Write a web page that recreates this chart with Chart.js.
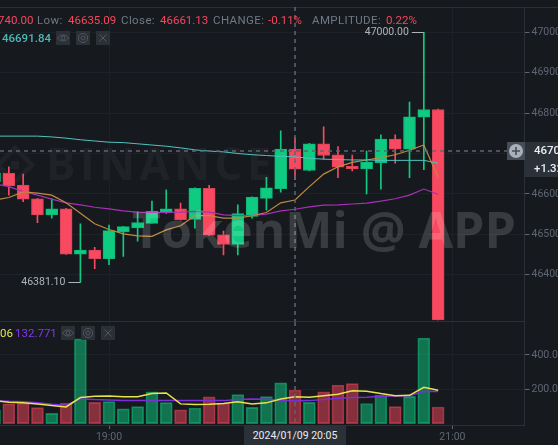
<!DOCTYPE html>
<html>
<head>
<meta charset="UTF-8">
<title>BTC 5m</title>
<script src="https://cdn.jsdelivr.net/npm/chart.js@4"></script>
<style>
  html, body { margin: 0; width: 558px; height: 445px; overflow: hidden; background: #161a1e; }
  canvas { position: absolute; left: 0; }
  #mainChart { top: 0; }
  #volChart { top: 322px; }
  .t { position: absolute; font: 11.5px Roboto, sans-serif; white-space: nowrap; line-height: 14px; }
  .lab { color: #6f7885; letter-spacing: 0.4px; }
  .red { color: #f6465d; }
  .box { position: absolute; width: 14px; height: 14px; background: #2b2f36; }
  #tag { position: absolute; left: 525px; top: 142px; width: 33px; height: 35px; background: #2b3139; }
  #plus { position: absolute; left: 507px; top: 142px; width: 18px; height: 18px; background: #474d57; }
  #dateTag { position: absolute; left: 244px; top: 425px; width: 102px; height: 20px; background: #2b3139; color: #eaecef;
    font: 10.5px Roboto, sans-serif; text-align: center; line-height: 22px; }
</style>
</head>
<body>
<canvas id="mainChart" width="558" height="322"></canvas>
<canvas id="volChart" width="558" height="123"></canvas>

<span class="t red" style="left:-2px;top:13px">740.00</span>
<span class="t lab" style="left:37px;top:13px">Low:</span>
<span class="t red" style="left:68px;top:13px">46635.09</span>
<span class="t lab" style="left:121px;top:13px">Close:</span>
<span class="t red" style="left:160px;top:13px">46661.13</span>
<span class="t lab" style="left:213px;top:13px">CHANGE:</span>
<span class="t red" style="left:268px;top:13px">-0.11%</span>
<span class="t lab" style="left:312px;top:13px">AMPLITUDE:</span>
<span class="t red" style="left:386px;top:13px">0.22%</span>
<span class="t" style="left:2px;top:31px;color:#4db8b8;font-weight:500">46691.84</span>
<span class="t" style="left:0;top:326px;color:#e8e34d;">06</span>
<span class="t" style="left:15px;top:326px;color:#8438f0;">132.771</span>

<div id="plus"><svg width="18" height="18"><circle cx="9" cy="9" r="7" fill="#aab0b9"/><path d="M9 5v8M5 9h8" stroke="#474d57" stroke-width="1.6"/></svg></div>
<div id="tag"></div>
<span class="t" style="left:534px;top:143px;color:#eaecef;font-weight:500">46706.00</span>
<span class="t" style="left:534px;top:161px;color:#eaecef;font-weight:500">+1.32%</span>
<div id="dateTag">2024/01/09 20:05</div>

<script>
// 5 minute candles, minutes since midnight, 19:00 = 1140
var times = [1100,1105,1110,1115,1120,1125,1130,1135,1140,1145,1150,1155,1160,1165,1170,1175,
             1180,1185,1190,1195,1200,1205,1210,1215,1220,1225,1230,1235,1240,1245,1250,1255];
var opens  = [46630,46651,46622,46588,46548,46563,46451,46461,46440,46506,46516,46527,46554,46563,46537,46614,
              46499,46475,46544,46589,46613,46711,46658,46724,46697,46668,46662,46677,46736,46711,46790,46809];
var highs  = [46660,46667,46649,46589,46588,46564,46526,46468,46523,46520,46556,46582,46610,46577,46615,46621,
              46508,46573,46593,46641,46756,46740,46725,46766,46717,46696,46706,46746,46746,46827,47000,46810];
var lows   = [46622,46597,46581,46529,46540,46450,46381.10,46415,46425,46445,46483,46527,46552,46535,46515,46497,
              46449,46449,46540,46560,46604,46635.09,46657,46686,46640,46657,46600,46612,46676,46640,46660,46288];
var closes = [46652,46620,46587,46548,46563,46451,46461,46440,46509,46519,46529,46557,46563,46536,46614,46498,
              46475,46551,46592,46615,46711,46661.13,46724,46695,46666,46662,46679,46736,46711,46791,46809,46288];

var maOrange = [46585,46591,46605,46602,46597,46578,46552,46526,46512,46501,46496,46495,46511,46521,46546,46546,
                46540,46540,46546,46554,46578,46585,46618,46649,46667,46678,46684,46690,46697,46708,46721,46641];
var maPurple = [46625,46618,46606,46597,46587,46578,46573,46567,46563,46558,46555,46554,46554,46555,46557,46555,
                46548,46546,46547,46550,46558,46562,46568,46572,46573,46575,46577,46582,46588,46597,46612,46599];
var maTeal   = [46743,46743,46743,46743,46741,46738,46734,46731,46728,46727,46724,46721,46718,46714,46709,46706,
                46704,46700,46697,46695,46693,46691.84,46688,46686,46685,46684,46684,46683,46683,46683,46683,46676];

var volumes = [78,115,120,93,60,119,494,124,128,86,99,185,122,80,91,156,
               120,169,95,157,237,196,124,185,224,233,117,165,99,159,498,97];
var volMaYellow = [134,124,121,115,105,97,152,159,161,157,157,175,179,115,111,113,
                   117,128,115,121,144,157,154,163,171,192,189,175,163,165,212,194];
var volMaPurple = [134,130,128,121,113,107,144,140,138,134,134,134,134,134,134,134,
                   134,140,144,142,136,132.771,134,140,148,152,154,159,161,163,189,187];

var priceTicks = [46400,46500,46600,46700,46800,46900,47000];
var volTicks = [200,400];
var timeTicks = [1140,1260];
var crossTime = 1205, crossPrice = 46706;
var highMark = 47000, highMarkTime = 1250, lowMark = 46381.10, lowMarkTime = 1130;

var UP = '#0ecb81', DOWN = '#f84960';
var GRID = '#1e2228', LINE = '#2b2f36', TICK = '#5e6673';
var XMIN = 1101.91, XMAX = 1285.18;

function isUp(i) { return closes[i] >= opens[i]; }
function hhmm(m) { return Math.floor(m / 60) + ':' + ('0' + (m % 60)).slice(-2); }
function toPts(arr) { return arr.map(function (v, i) { return { x: times[i], y: v }; }); }
function maLine(arr, color, w) {
  return { type: 'line', data: toPts(arr), borderColor: color, borderWidth: w, pointRadius: 0, tension: 0, order: 0 };
}
function noPadding(s) { s.paddingTop = 0; s.paddingBottom = 0; s.paddingLeft = 0; s.paddingRight = 0; }
function xScale(showLabels) {
  return {
    type: 'linear', min: XMIN, max: XMAX, offset: false,
    afterBuildTicks: function (s) { s.ticks = timeTicks.map(function (v) { return { value: v }; }); },
    afterFit: function (s) { s.height = showLabels ? 20 : 0; noPadding(s); },
    grid: { offset: false, color: GRID, drawTicks: showLabels, tickColor: TICK, tickLength: 4 },
    border: { color: LINE },
    ticks: { display: showLabels, color: TICK, font: { family: 'Roboto', size: 10.5 }, padding: 2, maxRotation: 0,
             callback: function (v) { return hhmm(v); } }
  };
}
function yScale(min, max, list, digits) {
  return {
    position: 'right', min: min, max: max,
    afterBuildTicks: function (s) { s.ticks = list.map(function (v) { return { value: v }; }); },
    afterFit: function (s) { s.width = 33.5; noPadding(s); },
    grid: { color: GRID, tickColor: TICK, tickLength: 5 },
    border: { color: LINE },
    ticks: { color: TICK, font: { family: 'Roboto', size: 10.5 }, padding: 2,
             callback: function (v) { return v.toFixed(digits); } }
  };
}

var watermark = {
  id: 'watermark',
  beforeDatasetsDraw: function (c) {
    var g = c.ctx;
    g.save();
    g.fillStyle = '#1f2328';
    g.font = 'bold 44px "Open Sans"';
    g.letterSpacing = '4.5px';
    g.textBaseline = 'alphabetic';
    g.fillText('BINANCE', 46, 180);
    g.letterSpacing = '0px';
    g.strokeStyle = '#1f2328';
    g.lineWidth = 5;
    g.beginPath();
    g.moveTo(15, 148); g.lineTo(32, 165); g.lineTo(15, 182); g.lineTo(-2, 165); g.closePath();
    g.stroke();
    g.fillRect(11, 161, 8, 8);
    g.restore();
  }
};

var crossMain = {
  id: 'crossMain',
  afterDatasetsDraw: function (c) {
    var g = c.ctx, a = c.chartArea, x = c.scales.x, y = c.scales.y;
    var px = x.getPixelForValue(crossTime), py = y.getPixelForValue(crossPrice);
    g.save();
    g.strokeStyle = LINE;
    g.lineWidth = 1;
    g.beginPath(); g.moveTo(0, a.top + 0.5); g.lineTo(558, a.top + 0.5); g.stroke();

    g.strokeStyle = TICK;
    g.lineWidth = 1.5;
    g.setLineDash([4, 4]);
    g.beginPath(); g.moveTo(px, a.top); g.lineTo(px, a.bottom); g.stroke();
    g.beginPath(); g.moveTo(0, py); g.lineTo(a.right, py); g.stroke();
    g.setLineDash([]);

    // high / low marks
    g.font = '10.5px Roboto';
    g.fillStyle = '#aeb4bc';
    g.strokeStyle = '#aeb4bc';
    g.lineWidth = 1;
    g.textBaseline = 'middle';
    g.textAlign = 'right';
    [[highMark, highMarkTime], [lowMark, lowMarkTime]].forEach(function (m) {
      var mx = x.getPixelForValue(m[1]), my = Math.round(y.getPixelForValue(m[0])) + 0.5;
      g.beginPath(); g.moveTo(mx, my); g.lineTo(mx - 12, my); g.stroke();
      g.fillText(m[0].toFixed(2), mx - 15, my);
    });

    g.textAlign = 'left';
    g.textBaseline = 'alphabetic';
    g.fillStyle = 'rgba(255,255,255,0.15)';
    g.font = 'bold 50px "Open Sans"';
    g.fillText('TokenMi @ APP', 132, 248);
    g.restore();
  }
};

var crossVol = {
  id: 'crossVol',
  afterDatasetsDraw: function (c) {
    var g = c.ctx, a = c.chartArea;
    var px = c.scales.x.getPixelForValue(crossTime);
    g.save();
    g.strokeStyle = TICK;
    g.lineWidth = 1.5;
    g.setLineDash([4, 4]);
    g.beginPath(); g.moveTo(px, 0); g.lineTo(px, a.bottom + 4); g.stroke();
    g.restore();
  }
};

new Chart(document.getElementById('mainChart'), {
  type: 'bar',
  plugins: [watermark, crossMain],
  data: {
    datasets: [
      maLine(maTeal, '#4fc3bf', 1),
      maLine(maOrange, '#c08a3e', 1.2),
      maLine(maPurple, '#a82fb8', 1.2),
      { data: times.map(function (t, i) { return { x: t, y: [opens[i], closes[i]] }; }),
        barThickness: 12, grouped: false, order: 1, borderSkipped: false, borderWidth: 1,
        backgroundColor: times.map(function (t, i) { return isUp(i) ? UP : DOWN; }),
        borderColor: times.map(function (t, i) { return isUp(i) ? '#0db878' : '#d9435a'; }) },
      { data: times.map(function (t, i) { return { x: t, y: [lows[i], highs[i]] }; }),
        barThickness: 1, grouped: false, order: 2, borderWidth: 0,
        backgroundColor: times.map(function (t, i) { return isUp(i) ? UP : DOWN; }) }
    ]
  },
  options: {
    responsive: false, animation: false, devicePixelRatio: 1,
    layout: { padding: { top: 7, bottom: 0.5, left: 0, right: 0 } },
    plugins: { legend: { display: false }, tooltip: { enabled: false } },
    scales: { x: xScale(false), y: yScale(46284.2, 47062.6, priceTicks, 2) }
  }
});

new Chart(document.getElementById('volChart'), {
  type: 'bar',
  plugins: [crossVol],
  data: {
    datasets: [
      maLine(volMaYellow, '#e8e34d', 1.5),
      maLine(volMaPurple, '#7b2fd9', 1.5),
      { data: times.map(function (t, i) { return { x: t, y: volumes[i] }; }),
        barThickness: 12, grouped: false, order: 1, borderSkipped: false, borderWidth: 1,
        backgroundColor: times.map(function (t, i) { return isUp(i) ? 'rgba(14,203,129,0.5)' : 'rgba(246,70,93,0.5)'; }),
        borderColor: times.map(function (t, i) { return isUp(i) ? 'rgba(14,203,129,0.55)' : 'rgba(246,70,93,0.55)'; }) }
    ]
  },
  options: {
    responsive: false, animation: false, devicePixelRatio: 1,
    layout: { padding: 0 },
    plugins: { legend: { display: false }, tooltip: { enabled: false } },
    scales: { x: xScale(true), y: yScale(-8, 592, volTicks, 2) }
  }
});

// the eye / gear / close buttons beside the indicator labels
var eye = '<svg width="14" height="14" fill="none" stroke="#4f5661"><path d="M1.5 7C4 3 10 3 12.5 7 10 11 4 11 1.5 7z"/><circle cx="7" cy="7" r="2"/></svg>';
var gear = '<svg width="14" height="14" fill="none" stroke="#4f5661"><circle cx="7" cy="7" r="2"/><circle cx="7" cy="7" r="4.6"/></svg>';
var cross = '<svg width="14" height="14" stroke="#4f5661"><path d="M3.5 3.5l7 7M10.5 3.5l-7 7"/></svg>';
[[56, 31, eye], [76, 31, gear], [96, 31, cross], [61, 326, eye], [81, 326, gear], [101, 326, cross]].forEach(function (b) {
  var d = document.createElement('div');
  d.className = 'box';
  d.style.left = b[0] + 'px';
  d.style.top = b[1] + 'px';
  d.innerHTML = b[2];
  document.body.appendChild(d);
});
</script>
</body>
</html>
